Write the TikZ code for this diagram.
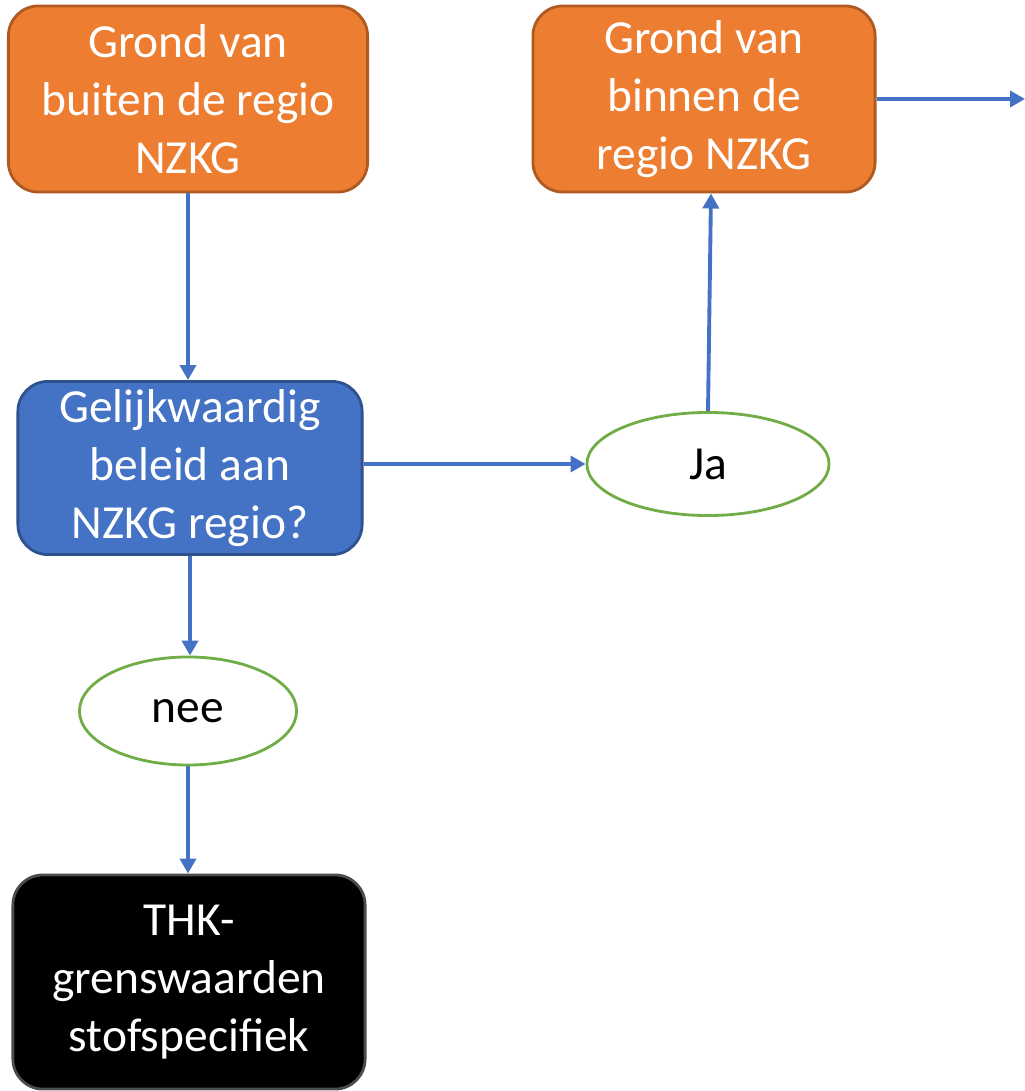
\documentclass[tikz,border=0pt]{standalone}
\usepackage{fontspec}
\setmainfont{Carlito}
\usetikzlibrary{arrows.meta}
\usetikzlibrary{shapes.geometric}
\definecolor{oranjevul}{HTML}{ED7D31}
\definecolor{oranjerand}{HTML}{AE5A21}
\definecolor{blauwvul}{HTML}{4472C4}
\definecolor{blauwrand}{HTML}{2F528F}
\definecolor{groenrand}{HTML}{70AD47}
\tikzset{
 blok/.style={rectangle, rounded corners=0.3cm, line width=0.8pt, text=white, align=center, inner sep=0pt, font=\fontsize{13.5}{16.5}\selectfont},
 oranjeblok/.style={blok, draw=oranjerand, fill=oranjevul},
 blauwblok/.style={blok, draw=blauwrand, fill=blauwvul},
 zwartblok/.style={blok, draw=black!70, fill=black},
 antwoord/.style={ellipse, draw=groenrand, fill=white, line width=0.8pt, inner sep=0pt, font=\fontsize{13.5}{16.5}\selectfont},
 pijl/.style={draw=blauwvul, line width=1.1pt, -{Triangle[width=0.16cm, length=0.15cm]}}
}
\begin{document}
\begin{tikzpicture}[x=0.01cm, y=-0.01cm]
\useasboundingbox (0,0) rectangle (1025,1091);
% bovenste rij
\node[oranjeblok, minimum width=3.59cm, minimum height=1.86cm] (buiten) at (188,99) {Grond van\\buiten de regio\\NZKG};
\node[oranjeblok, minimum width=3.42cm, minimum height=1.86cm] (binnen) at (704,99) {Grond van\\binnen de\\regio NZKG};
\coordinate (rand) at (1025,99);
% vraag
\node[blauwblok, minimum width=3.44cm, minimum height=1.73cm] (vraag) at (190,468) {Gelijkwaardig\\beleid aan\\NZKG regio?};
\node[antwoord, minimum width=2.42cm, minimum height=1.03cm] (ja) at (708,464) {Ja};
\node[antwoord, minimum width=2.17cm, minimum height=1.08cm] (nee) at (188,711) {nee};
% uitkomst
\node[zwartblok, minimum width=3.52cm, minimum height=2.14cm] (thk) at (189,982) {THK-\\grenswaarden\\stofspecifiek};
% pijlen
\draw[pijl] (buiten) -- (buiten |- vraag.north);
\draw[pijl] (vraag.east |- ja) -- (ja);
\draw[pijl] (ja.north) -- ([xshift=0.07cm]binnen.south);
\draw[pijl] (binnen) -- (rand);
\draw[pijl] (vraag.south) -- (vraag.south |- nee.north);
\draw[pijl] (nee) -- (nee |- thk.north);
\end{tikzpicture}
\end{document}
